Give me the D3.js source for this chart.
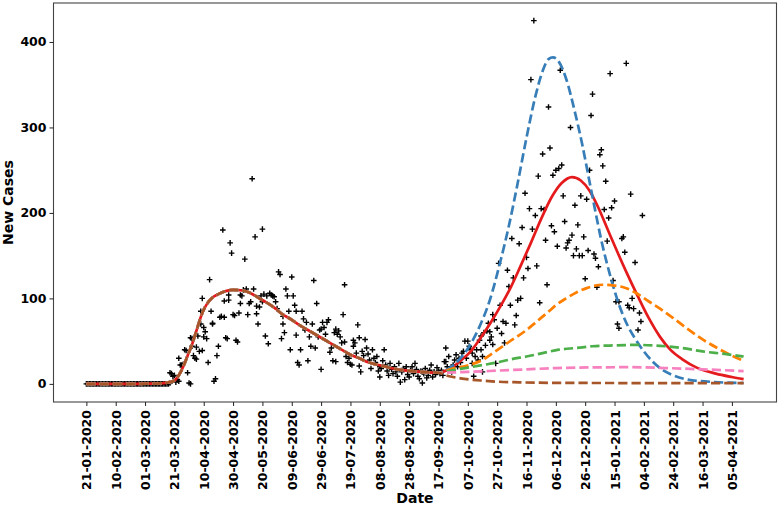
<!DOCTYPE html>
<html>
<head>
<meta charset="utf-8">
<script src="https://cdn.jsdelivr.net/npm/d3@7"></script>
<style>
  html, body { margin: 0; padding: 0; background: #fff; }
  svg { display: block; font-family: "DejaVu Sans", sans-serif; }
</style>
</head>
<body>
<svg id="chart" width="780" height="510"></svg>
<script>
// ---------------- DATA ----------------
const startDate = "21-01-2020";
const xTickLabels = ["21-01-2020","10-02-2020","01-03-2020","21-03-2020","10-04-2020","30-04-2020",
  "20-05-2020","09-06-2020","29-06-2020","19-07-2020","08-08-2020","28-08-2020","17-09-2020",
  "07-10-2020","27-10-2020","16-11-2020","06-12-2020","26-12-2020","15-01-2021","04-02-2021",
  "24-02-2021","16-03-2021","05-04-2021"];
const yTickValues = [0, 100, 200, 300, 400];

// daily new cases, days 0..54 after start (all zero)
const earlyCases = [0,0,0,0,0,0,0,0,0,0,0,0,0,0,0,0,0,0,0,0,0,0,0,0,0,0,0,0,0,0,
  0,0,0,0,0,0,0,0,0,0,0,0,0,0,0,0,0,0,0,0,0,0,0,0,0];

// [day after start, new cases] – first wave and trough
const wave1Cases = [[55,0],[56,0],[57,1],[57,13],[58,12],[59,9],[60,10],[61,2],[62,5],[63,30],[63,3],
  [64,22],[65,22],[66,23],[67,40],[68,39],[69,13],[70,1],[71,54],[71,0],[72,44],[72,53],[73,33],
  [74,30],[75,29],[75,43],[76,56],[77,38],[78,70],[78,85],[79,39],[79,100],[80,66],[80,55],[81,61],
  [82,53],[83,25],[84,122],[85,85],[86,70],[86,71],[87,3],[88,6],[89,33],[90,44],[91,78],[92,79],
  [93,180],[94,78],[94,97],[95,54],[96,53],[97,98],[97,104],[98,165],[99,153],[100,81],[101,80],
  [102,51],[103,49],[104,83],[105,94],[105,104],[106,103],[107,110],[108,146],[109,111],[110,81],
  [111,94],[112,96],[113,240],[114,111],[115,172],[116,91],[116,82],[117,70],[118,90],[119,103],
  [120,181],[120,96],[121,105],[122,56],[123,103],[124,47],[125,106],[126,104],[127,103],[128,102],
  [129,96],[130,88],[131,131],[132,128],[133,53],[134,79],[134,70],[135,60],[136,111],[137,103],
  [138,85],[139,40],[140,125],[141,103],[142,92],[143,85],[143,57],[144,25],[145,22],[146,40],
  [147,85],[148,76],[149,63],[150,72],[151,27],[152,55],[153,44],[154,70],[155,121],[156,42],
  [157,94],[158,55],[159,63],[160,64],[160,17],[161,72],[162,66],[163,58],[164,72],[165,75],
  [166,37],[167,42],[168,27],[169,60],[170,64],[170,26],[171,58],[172,62],[173,55],[174,48],
  [175,81],[176,116],[176,49],[177,32],[178,25],[179,30],[180,23],[181,22],[182,44],[182,51],
  [183,48],[184,36],[185,69],[186,54],[186,21],[187,14],[188,38],[189,33],[190,52],[191,42],
  [192,35],[193,28],[194,18],[195,40],[196,30],[197,25],[198,32],[199,15],[200,8],[200,20],
  [201,18],[202,27],[203,40],[204,22],[205,15],[206,10],[207,24],[208,17],[209,12],[210,20],
  [211,14],[212,9],[213,24],[214,2],[215,14],[216,18],[217,5],[218,20],[219,11],[220,8],[221,16],
  [222,20],[223,12],[224,24],[225,17],[226,9],[227,6],[228,15],[229,14],[229,1],[230,12],[231,18],
  [232,7],[233,10],[234,16],[235,22],[236,8],[237,14],[238,11],[239,19],[240,15]];

// [day after start, new cases] – second wave
const wave2Cases = [[241,12],[242,16],[243,10],[244,26],[245,42],[245,26],[246,20],[247,32],[248,18],
  [249,14],[250,22],[251,28],[252,34],[253,20],[254,30],[255,25],[256,36],[257,38],[258,50],[259,30],
  [260,50],[261,44],[262,40],[263,36],[263,24],[264,9],[265,32],[266,40],[267,28],[268,51],[269,56],
  [269,40],[270,32],[270,14],[271,60],[272,45],[273,62],[274,71],[275,61],[275,51],[276,55],[277,81],
  [277,46],[278,75],[279,24],[280,65],[281,141],[282,92],[283,59],[284,73],[285,48],[286,71],
  [287,133],[288,114],[289,92],[290,170],[291,124],[292,69],[293,80],[294,98],[295,164],[296,100],
  [297,183],[298,124],[299,223],[300,148],[301,135],[302,205],[303,356],[304,181],[305,425],
  [306,197],[307,138],[308,243],[309,95],[310,205],[311,269],[312,204],[313,168],[314,116],
  [315,324],[316,276],[317,185],[318,244],[319,178],[320,250],[321,161],[322,252],[323,367],
  [324,256],[325,220],[326,190],[327,159],[328,165],[329,168],[330,300],[331,174],[332,150],
  [333,209],[334,158],[335,186],[336,150],[337,220],[338,150],[339,172],[340,123],[341,216],
  [342,156],[343,250],[344,314],[345,339],[346,152],[347,147],[348,113],[349,137],[350,268],
  [351,274],[352,255],[353,204],[354,237],[355,167],[356,194],[357,363],[358,206],[359,121],
  [360,214],[361,96],[362,70],[363,65],[363,96],[365,170],[366,172],[367,154],[368,375],[369,92],
  [370,89],[371,222],[372,100],[373,88],[374,142],[376,63],[377,83],[378,73],[379,197]];

// fitted first wave (shared by every curve), [day, value]
const fitWave1 = [[0,0],[10,0],[20,0],[30,0],[40,0.2],[50,0.6],[55,1.5],[60,4],[63,10],[66,20],
  [69,33],[72,46],[75,62],[79,83],[82,93],[86,101],[90,105],[95,108.5],[100,110],[105,109.5],
  [111,107],[117,101],[123,95],[129,88],[134,81],[140,75],[145,69],[151,63],[157,57],[163,51],
  [168,46],[174,40],[180,34],[186,30],[191,26],[197,23],[202,21],[209,18],[216,16],[228,14],[240,13]];

// second-wave fit and projections, [day, value]
const redWave2 = [[248,18],[255,27],[262,38],[268,52],[275,70],[282,90],[289,112],[296,138],
  [303,165],[310,193],[317,218],[324,235],[331,242],[337,238],[343,226],[349,206],[355,182],
  [361,158],[368,131],[376,102],[383,78],[391,55],[398,40],[406,29],[416,19],[429,12],[440,8],[448,5.5]];
const blueProj = [[247,18],[254,28],[261,44],[268,67],[275,98],[282,142],[288,185],[294,235],
  [300,288],[306,336],[311,366],[315,380],[318,382],[322,377],[327,357],[333,318],[338,280],
  [342,245],[346,210],[351,168],[357,127],[363,93],[369,68],[374,53],[380,38],[386,26],[393,16],
  [400,10],[410,5],[425,2.5],[448,1]];
const orangeProj = [[248,17],[261,22],[270,28],[277,36],[288,49],[300,63],[307,73],[314,83],
  [320,92],[327,100],[334,107],[341,112],[352,116],[360,115],[368,112],[375,106],[382,98],
  [391,88],[400,77],[410,64],[420,52],[430,42],[440,33],[448,27]];
const greenProj = [[250,16],[260,19],[270,22],[280,25],[290,29],[300,32],[311,36],[322,40],
  [334,42],[345,44],[360,45],[375,45.6],[391,44.5],[406,42],[420,38],[435,35],[448,32]];
const pinkProj = [[260,14],[280,15.5],[300,17],[320,18.5],[345,19.3],[370,19.5],[395,18.5],
  [420,17],[448,15]];
const brownProj = [[245,10],[250,8],[255,6.5],[262,5],[270,3.8],[280,2.6],[295,1.8],[320,1.2],
  [360,1],[448,0.8]];

// ---------------- CHART ----------------
const svg = d3.select("#chart");
const parse = d3.utcParse("%d-%m-%Y");
const fmt = d3.utcFormat("%d-%m-%Y");
const t0 = parse(startDate).getTime();
const DAY = 864e5;
const toDate = d => new Date(t0 + d * DAY);

const plotL = 53.5, plotR = 776.5, plotT = 3, plotB = 402;
const x = d3.scaleUtc().domain([toDate(-22.4), toDate(470.4)]).range([plotL, plotR]);
const y = d3.scaleLinear().domain([-21.2, 445.6]).range([plotB, plotT]);

// scatter
const allCases = earlyCases.map((v, i) => [i, v]).concat(wave1Cases, wave2Cases);
const plusSize = 2.8;
svg.append("g")
  .selectAll("path")
  .data(allCases)
  .join("path")
  .attr("transform", d => `translate(${x(toDate(d[0]))},${y(d[1])})`)
  .attr("d", `M${-plusSize},0H${plusSize}M0,${-plusSize}V${plusSize}`)
  .attr("stroke", "#000")
  .attr("stroke-width", 1.4)
  .attr("fill", "none");

// curves
const line = d3.line()
  .x(d => x(toDate(d[0])))
  .y(d => y(d[1]))
  .curve(d3.curveMonotoneX);

const curves = [
  { data: fitWave1.concat(redWave2), color: "#e41a1c", dash: null },
  { data: fitWave1.concat(blueProj), color: "#377eb8", dash: "9.25,4" },
  { data: fitWave1.concat(orangeProj), color: "#ff7f00", dash: "9.25,4" },
  { data: fitWave1.concat(greenProj), color: "#4daf4a", dash: "9.25,4" },
  { data: fitWave1.concat(pinkProj), color: "#f781bf", dash: "9.25,4" },
  { data: fitWave1.concat(brownProj), color: "#a65628", dash: "9.25,4" }
];
svg.append("g")
  .selectAll("path")
  .data(curves)
  .join("path")
  .attr("d", c => line(c.data))
  .attr("fill", "none")
  .attr("stroke", c => c.color)
  .attr("stroke-width", 2.7)
  .attr("stroke-dasharray", c => c.dash);

// frame
svg.append("rect")
  .attr("x", plotL).attr("y", plotT)
  .attr("width", plotR - plotL).attr("height", plotB - plotT)
  .attr("fill", "none").attr("stroke", "#444").attr("stroke-width", 1.1);

// x axis
const xAxis = svg.append("g")
  .attr("transform", `translate(0,${plotB})`)
  .call(d3.axisBottom(x).tickValues(xTickLabels.map(parse)).tickFormat(fmt).tickSize(4).tickSizeOuter(0));
xAxis.select(".domain").remove();
xAxis.selectAll(".tick line").attr("stroke", "#222");
xAxis.selectAll(".tick text")
  .attr("transform", "rotate(-90)")
  .attr("x", -8).attr("y", 0).attr("dy", "0.36em")
  .attr("text-anchor", "end")
  .attr("font-size", 12.5).attr("font-weight", "bold")
  .attr("font-family", "DejaVu Sans").attr("fill", "#000");

// y axis
const yAxis = svg.append("g")
  .attr("transform", `translate(${plotL},0)`)
  .call(d3.axisLeft(y).tickValues(yTickValues).tickSize(4).tickSizeOuter(0));
yAxis.select(".domain").remove();
yAxis.selectAll(".tick line").attr("stroke", "#222");
yAxis.selectAll(".tick text")
  .attr("x", -7)
  .attr("font-size", 12.5).attr("font-weight", "bold")
  .attr("font-family", "DejaVu Sans").attr("fill", "#000");

// axis titles
svg.append("text")
  .attr("x", (plotL + plotR) / 2).attr("y", 503)
  .attr("text-anchor", "middle")
  .attr("font-size", 14).attr("font-weight", "bold")
  .text("Date");
svg.append("text")
  .attr("transform", `translate(13,${(plotT + plotB) / 2}) rotate(-90)`)
  .attr("text-anchor", "middle")
  .attr("font-size", 14).attr("font-weight", "bold")
  .text("New Cases");
</script>
</body>
</html>
